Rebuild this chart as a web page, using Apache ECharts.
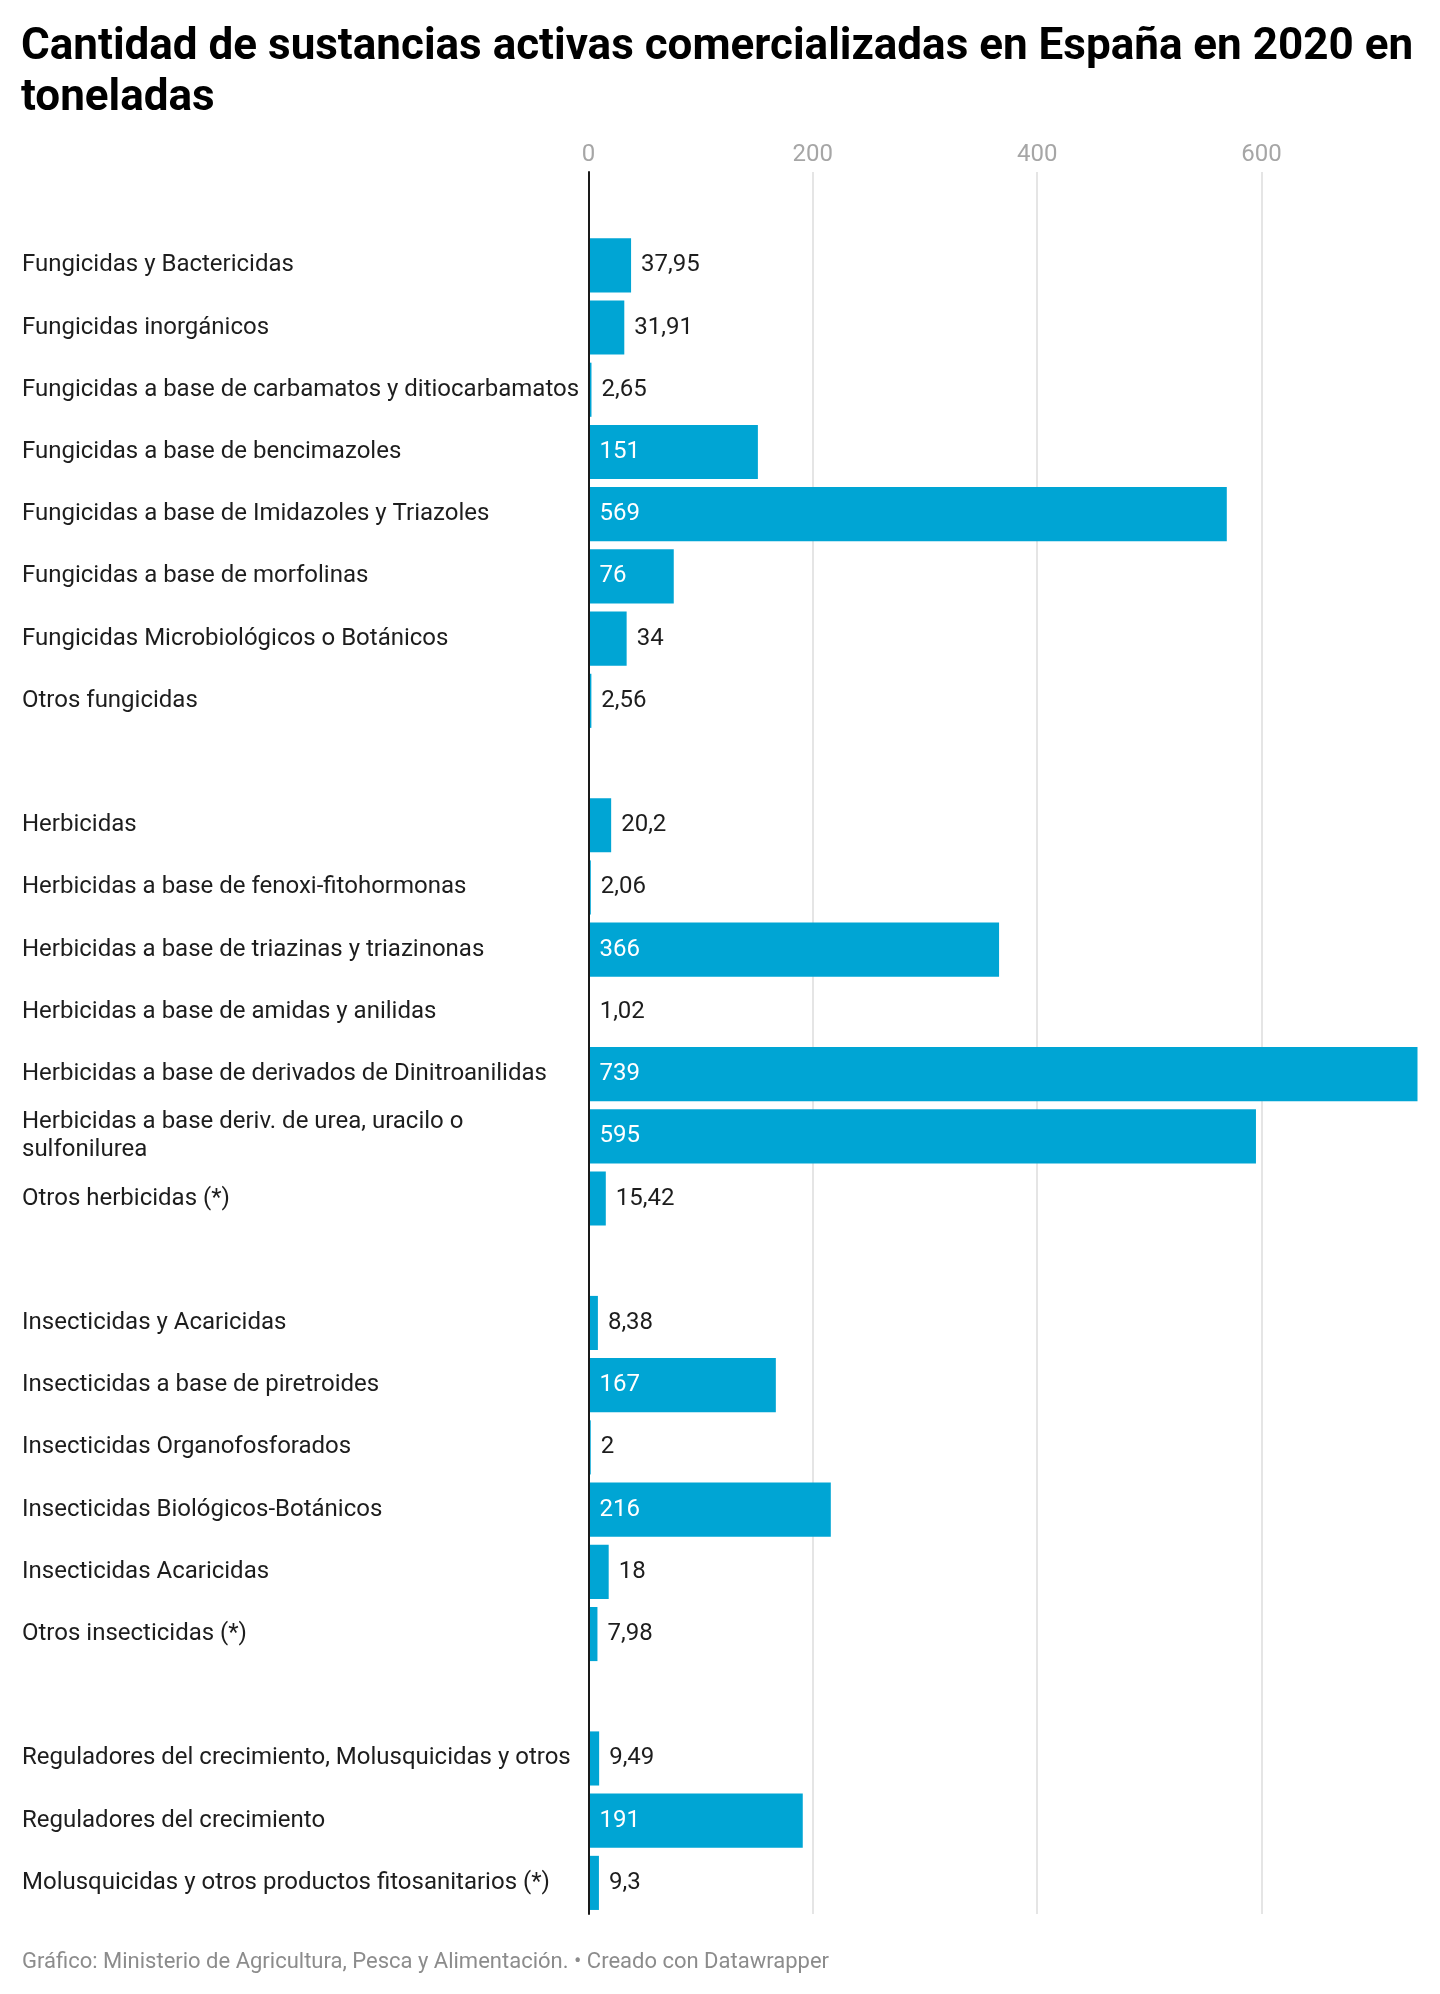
<!DOCTYPE html>
<html>
<head>
<meta charset="utf-8">
<script src="https://cdn.jsdelivr.net/npm/echarts@6/dist/echarts.min.js"></script>
<style>
html,body{margin:0;padding:0;background:#fff;}
#chart{width:1440px;height:1994px;}
</style>
</head>
<body>
<div id="chart"></div>
<script>
const titleText = 'Cantidad de sustancias activas comercializadas en España en 2020 en\ntoneladas';
const footerText = 'Gráfico: Ministerio de Agricultura, Pesca y Alimentación. • Creado con Datawrapper';

const categories = [
  '',
  'Fungicidas y Bactericidas',
  'Fungicidas inorgánicos',
  'Fungicidas a base de carbamatos y ditiocarbamatos',
  'Fungicidas a base de bencimazoles',
  'Fungicidas a base de Imidazoles y Triazoles',
  'Fungicidas a base de morfolinas',
  'Fungicidas Microbiológicos o Botánicos',
  'Otros fungicidas',
  ' ',
  'Herbicidas',
  'Herbicidas a base de fenoxi-fitohormonas',
  'Herbicidas a base de triazinas y triazinonas',
  'Herbicidas a base de amidas y anilidas',
  'Herbicidas a base de derivados de Dinitroanilidas',
  'Herbicidas a base deriv. de urea, uracilo o\nsulfonilurea',
  'Otros herbicidas (*)',
  '  ',
  'Insecticidas y Acaricidas',
  'Insecticidas a base de piretroides',
  'Insecticidas Organofosforados',
  'Insecticidas Biológicos-Botánicos',
  'Insecticidas Acaricidas',
  'Otros insecticidas (*)',
  '   ',
  'Reguladores del crecimiento, Molusquicidas y otros',
  'Reguladores del crecimiento',
  'Molusquicidas y otros productos fitosanitarios (*)'
];

const values = [
  null,
  37.95, 31.91, 2.65, 151, 569, 76, 34, 2.56,
  null,
  20.2, 2.06, 366, 1.02, 739, 595, 15.42,
  null,
  8.38, 167, 2, 216, 18, 7.98,
  null,
  9.49, 191, 9.3
];

const tickInterval = 200;

const FONT = 'Roboto, "Noto Sans", sans-serif';
const BLUE = '#00a5d4';

const fmt = v => String(v).replace('.', ',');

const insideLabel = {show: true, position: 'insideLeft', distance: 11, color: '#ffffff'};
const outsideLabel = {show: true, position: 'right', distance: 10, color: '#1d1d1d'};

const seriesData = values.map(v => v == null ? '-' : {
  value: v,
  label: v >= 50 ? insideLabel : outsideLabel
});

const chart = echarts.init(document.getElementById('chart'), null, {renderer: 'canvas'});
chart.setOption({
  backgroundColor: '#ffffff',
  animation: false,
  textStyle: {fontFamily: FONT},
  title: {
    text: titleText,
    left: 21,
    top: 22,
    padding: 0,
    textStyle: {fontFamily: FONT, fontWeight: 'bold', fontSize: 44, lineHeight: 51, color: '#000000'}
  },
  graphic: [{
    type: 'text',
    left: 22,
    top: 1951,
    style: {text: footerText, font: '22px ' + FONT, fill: '#8c8c8c'}
  }],
  grid: {left: 588.5, right: 22.5, top: 172, bottom: 80, containLabel: false},
  xAxis: {
    type: 'value',
    position: 'top',
    min: 0,
    max: 'dataMax',
    interval: tickInterval,
    axisLine: {show: false},
    axisTick: {show: false},
    axisLabel: {
      color: '#a6a6a6', fontSize: 24, fontFamily: FONT, margin: 5,
      showMaxLabel: false
    },
    splitLine: {show: true, showMinLine: false, showMaxLine: false, lineStyle: {color: '#e5e5e5', width: 2}}
  },
  yAxis: {
    type: 'category',
    data: categories,
    inverse: true,
    z: 10,
    axisLine: {show: true, lineStyle: {color: '#1a1a1a', width: 2}},
    axisTick: {show: false},
    splitLine: {show: false},
    axisLabel: {
      align: 'left', margin: 566.5, fontSize: 24, lineHeight: 28,
      color: '#1d1d1d', fontFamily: FONT, interval: 0
    }
  },
  series: [{
    type: 'bar',
    data: seriesData,
    barCategoryGap: '13%',
    itemStyle: {color: BLUE},
    label: {
      show: true,
      fontSize: 24,
      fontFamily: FONT,
      formatter: p => (p.value == null || p.value === '-') ? '' : fmt(p.value)
    }
  }]
});
</script>
</body>
</html>
